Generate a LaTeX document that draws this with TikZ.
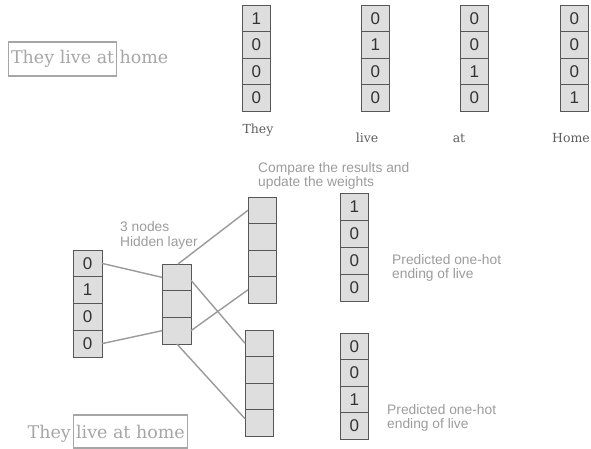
\documentclass[tikz,border=0pt]{standalone}
\usepackage{fontspec}
\setmainfont{DejaVu Serif}
\setsansfont{Liberation Sans}
\usetikzlibrary{calc}

\definecolor{cellfill}{HTML}{DEDEDE}
\definecolor{celldraw}{HTML}{575757}
\definecolor{wire}{HTML}{9A9A9A}
\definecolor{notegray}{HTML}{9C9C9C}
\definecolor{sentgray}{HTML}{A6A6A6}
\definecolor{wordgray}{HTML}{5E5E5E}

\tikzset{
  cell/.style={draw=celldraw, fill=cellfill, line width=1pt, inner sep=0pt, outer sep=0pt,
    font=\sffamily\fontsize{17}{17}\selectfont, text=black!80},
  wireline/.style={draw=wire, line width=1.4pt},
  note/.style={font=\sffamily\fontsize{13.8}{14.5}\selectfont, text=notegray, align=left,
    inner sep=0pt, anchor=north west},
  sentence/.style={font=\fontsize{17.5}{18}\selectfont, text=sentgray},
  sentbox/.style={sentence, draw=sentgray, line width=1.1pt, inner xsep=2.5pt},
  wordlabel/.style={font=\fontsize{12.5}{13}\selectfont, text=wordgray, inner sep=0pt, anchor=base},
}

% one column of stacked cells: name, left x, top y, width, cell height, entries
\newcommand\cellcolumn[6]{%
  \foreach \v [count=\i] in {#6} {
    \node[cell, minimum width=#4pt, minimum height=#5pt, anchor=north west]
      (#1-\i) at (#2, {#3+(\i-1)*#5}) {\v};
  }%
}

\begin{document}
\begin{tikzpicture}[x=1pt, y=-1pt]
\useasboundingbox (0,0) rectangle (591,448);

% ---- one-hot vocabulary ----
\node[sentbox, minimum height=34pt, anchor=west] (tl1) at (8,59) {They live at};
\node[sentence, anchor=base west, inner sep=0pt] (tl2) at ($(tl1.base east)+(2,0)$) {home};

\cellcolumn{they}{242}{5}{28.5}{26.5}{1,0,0,0}
\cellcolumn{live}{361}{5}{28.5}{26.5}{0,1,0,0}
\cellcolumn{at}{460}{5}{28.5}{26.5}{0,0,1,0}
\cellcolumn{home}{560}{5}{28.5}{26.5}{0,0,0,1}

\node[wordlabel] (wthey) at (258,133) {They};
\node[wordlabel] (wlive) at (367,142) {live};
\node[wordlabel] (wat)   at (459,142) {at};
\node[wordlabel] (whome) at (571,142) {Home};

% ---- network ----
\cellcolumn{in}{73}{250}{29}{26.75}{0,1,0,0}
\cellcolumn{hid}{162}{264}{29}{26.67}{{},{},{}}
\cellcolumn{outa}{248}{197}{28.5}{26.5}{{},{},{},{}}
\cellcolumn{outb}{245}{330}{28.5}{26.5}{{},{},{},{}}
\cellcolumn{preda}{340}{193}{28.5}{27}{1,0,0,0}
\cellcolumn{predb}{340}{333}{28.5}{26.5}{0,0,1,0}

\begin{scope}[wireline]
  \draw (in-1.east) -- (hid-1.west);
  \draw (in-4.east) -- (hid-3.west);
  \draw ($(hid-1.north)+(1.5,0)$) -- (outa-1.west);
  \draw (hid-3.east) -- (outa-4.west);
  \draw ($(hid-1.east)+(0,3)$) -- (outb-1.west);
  \draw ($(hid-3.south)+(0.5,0)$) -- ($(outb-4.west)+(0,-4)$);
\end{scope}

\node[note] (cmp) at (258,162) {Compare the results and\\update the weights};
\node[note] (hidlbl) at (120,221.5) {3 nodes\\Hidden layer};
\node[note] (pla) at (392,254) {Predicted one-hot\\ending of live};
\node[note] (plb) at (387,404) {Predicted one-hot\\ending of live};

% ---- training sentence ----
\node[sentbox, minimum height=33pt, anchor=west] (bl2) at (73,431.5) {live at home};
\node[sentence, anchor=base east, inner sep=0pt] (bl1) at ($(bl2.base west)+(-2,0)$) {They};
\end{tikzpicture}
\end{document}
